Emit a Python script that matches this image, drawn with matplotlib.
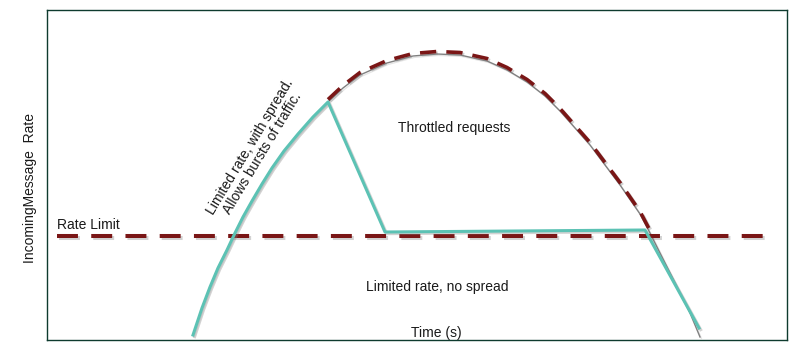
import matplotlib
matplotlib.use('Agg')
import matplotlib.pyplot as plt
import matplotlib.patheffects as pe
import matplotlib.transforms as mtransforms

plt.rcParams['font.family'] = ['Liberation Sans', 'DejaVu Sans']

# incoming message rate (arbitrary units)
demand_t = [146, 155, 163, 171, 180, 188, 196, 205, 215, 225, 237, 251, 266, 281,
            296, 313, 340, 366, 390, 413, 440, 460, 480, 498, 513, 543, 573, 593,
            603, 623, 643, 653]
demand_r = [5, 32, 53, 72, 90, 107, 123, 139, 156, 172, 189, 206, 223, 238,
            252, 265, 277, 284, 286, 285, 279, 270, 258, 244, 229, 195, 155, 126,
            107, 67, 27, 3]

# limited rate with spread: follows demand until the burst, then drops to the limit
spread_t = demand_t[:14] + [338, 598, 652]
spread_r = demand_r[:14] + [108, 110, 12]

# throttled part of the demand curve
throttled_t = demand_t[13:29]
throttled_r = demand_r[13:29]

rate_limit = 104
limit_span = [10, 718]

teal = '#5cc2b4'
darkred = '#7a1616'
frame = '#0e3b2e'

fig = plt.figure(figsize=(8.07, 3.6), dpi=100)
ax = fig.add_axes([47 / 807, 20 / 360, 740 / 807, 330 / 360])
ax.set_xlim(0, 740)
ax.set_ylim(0, 330)
ax.set_xticks([])
ax.set_yticks([])
for s in ax.spines.values():
    s.set_color(frame)
    s.set_linewidth(1.0)

shadow = [pe.SimpleLineShadow(offset=(1.2, -1.2), shadow_color='gray', alpha=0.35), pe.Normal()]

ax.plot(demand_t, demand_r, color='#808080', lw=1.0, zorder=2,
        path_effects=[pe.SimpleLineShadow(offset=(1, -1), shadow_color='gray', alpha=0.2), pe.Normal()])

up = mtransforms.offset_copy(ax.transData, fig=fig, x=0, y=2.5, units='dots')
ax.plot(throttled_t, throttled_r, color=darkred, lw=2.6, transform=up,
        dashes=(4.5, 2.8), zorder=3, path_effects=shadow)

ax.plot(limit_span, [rate_limit, rate_limit], color=darkred, lw=2.9,
        dashes=(5.2, 3.3), zorder=3, path_effects=shadow)

ax.plot(spread_t, spread_r, color=teal, lw=2.2, zorder=4, path_effects=shadow)

txt = dict(color='#1a1a1a', fontsize=10)
ax.text(10, rate_limit + 4, 'Rate Limit', ha='left', va='bottom', **txt)
ax.text(407, 212, 'Throttled requests', ha='center', va='center', **txt)
ax.text(390, 53, 'Limited rate, no spread', ha='center', va='center', **txt)
ax.text(389, 7, 'Time (s)', ha='center', va='center', **txt)
ax.text(209, 190, 'Limited rate, with spread.\nAllows bursts of traffic.',
        ha='center', va='center', rotation=59, rotation_mode='anchor',
        linespacing=1.0, **txt)

fig.text(30 / 807, 1 - 188 / 360, 'IncomingMessage  Rate', rotation=90,
         ha='center', va='center', **txt)

fig.savefig('out.png', dpi=100)
